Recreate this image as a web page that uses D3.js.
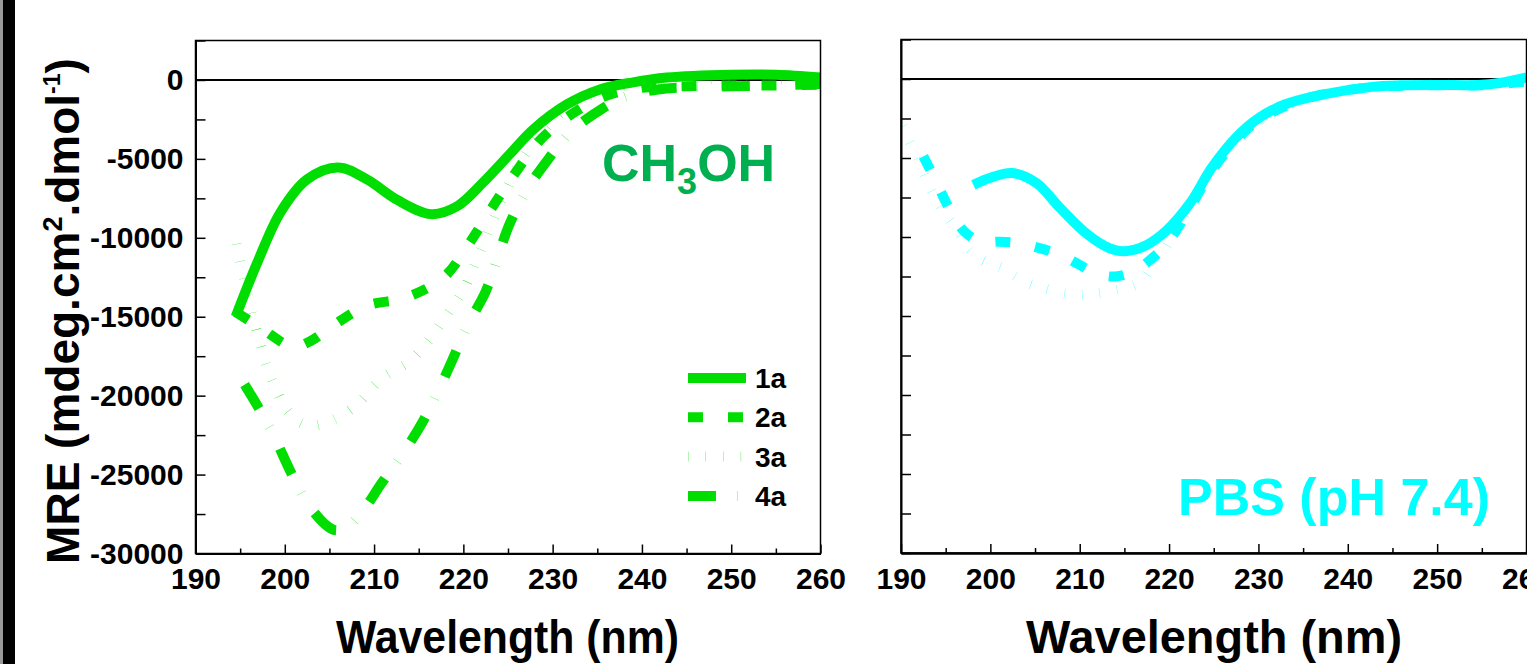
<!DOCTYPE html>
<html>
<head>
<meta charset="utf-8">
<script src="https://cdn.jsdelivr.net/npm/d3@7"></script>
<style>
  body { margin: 0; background: #fff; }
  svg { display: block; font-family: "Liberation Sans", Arial, sans-serif; font-weight: bold; }
</style>
</head>
<body>
<div id="chart"></div>
<script>
// axis ticks
const xMajor = [190, 200, 210, 220, 230, 240, 250, 260];
const xMinor = [195, 205, 215, 225, 235, 245, 255];
const yMajor = [0, -5000, -10000, -15000, -20000, -25000, -30000];
const yMinor = [2500, -2500, -7500, -12500, -17500, -22500, -27500];
const legendLabels = ["1a", "2a", "3a", "4a"];

// CH3OH panel, MRE
const meoh1aWl = [194.5, 196.9, 199.5, 202.5, 206, 209.2, 212.6, 216.4, 219.3, 222.2, 225.2, 227.8, 231.6, 235.3, 239, 242.8, 250, 255, 260];
const meoh1aMre = [-15000, -11600, -8400, -6300, -5550, -6300, -7600, -8500, -8000, -6500, -4700, -3150, -1550, -600, -150, 150, 330, 330, 150];

const meoh2aWl = [194.5, 197.3, 200.9, 203, 205.3, 209.2, 213.5, 217.8, 220.6, 223.2, 225.8, 228.8, 232.3, 236, 240, 245, 250, 255, 260];
const meoh2aMre = [-14700, -15700, -16900, -16500, -15600, -14300, -13800, -12500, -10400, -8100, -5900, -3700, -2100, -1000, -500, -400, -350, -350, -300];

const meoh3aWl = [194.2, 195, 195.5, 196.3, 196.9, 198, 199, 200.2, 201.7, 203.2, 204.7, 206.5, 208.4, 209.8, 210.9, 212.3, 214, 216, 218, 220, 222, 224, 226, 228, 230, 233, 236, 240, 245, 250, 255, 260];
const meoh3aMre = [-9300, -11500, -12700, -14800, -16000, -18200, -19600, -20900, -21700, -21900, -21700, -21200, -20400, -19500, -18900, -18400, -17800, -16600, -15000, -13300, -10700, -8000, -5600, -3900, -2600, -1300, -600, -200, 0, 50, 50, 0];

const meoh4aWl = [195.5, 198.3, 200.9, 203, 205.5, 207, 208.6, 210.9, 213.3, 215.4, 217.1, 218.8, 220.5, 222.5, 225.2, 227.3, 229.4, 232, 235.2, 238, 241.8, 246, 250.3, 254, 258.4, 260];
const meoh4aMre = [-19300, -22000, -25100, -27200, -28500, -28300, -27400, -25500, -23600, -21700, -19800, -17700, -15500, -13400, -9100, -6800, -5100, -3300, -1950, -1100, -600, -450, -400, -350, -280, -250];

// PBS panel
const pbs1aWl = [198.1, 200, 202.4, 205.2, 207.7, 210.8, 213.3, 215, 217.5, 219.7, 222.3, 224.8, 227.5, 230.1, 233, 237, 242.7, 246, 250, 254.6, 257, 260];
const pbs1aMre = [-6700, -6250, -5950, -6600, -8100, -9800, -10700, -10900, -10500, -9600, -7900, -5600, -3700, -2450, -1600, -1000, -500, -400, -380, -380, -250, 100];

const pbs2aWl = [192.5, 193.5, 195.5, 197, 198.9, 201, 203.2, 205.5, 207.7, 209.8, 211.8, 214, 216.3, 218, 219.8, 222.3, 224.8, 227.5, 230, 235, 240, 245, 250, 255, 260];
const pbs2aMre = [-4900, -6000, -8300, -9600, -10300, -10300, -10400, -10700, -11100, -11700, -12300, -12500, -12100, -11400, -10400, -8200, -5800, -3900, -2600, -1300, -700, -450, -400, -400, -150];

const pbs3aWl = [190.2, 191, 191.8, 193.5, 194.7, 195.7, 196.9, 198.6, 201.4, 204.1, 205.8, 208.6, 211.4, 214.4, 216.7, 218.1, 219.2, 221, 223, 225, 228, 231, 235, 240, 245, 250, 255, 260];
const pbs3aMre = [-3000, -4000, -4950, -7200, -8300, -9100, -10100, -11300, -12000, -12900, -13200, -13600, -13600, -13300, -12900, -11900, -11000, -9300, -7300, -5400, -3600, -2300, -1300, -650, -400, -350, -350, -100];

// line styles (Origin-like dash patterns at width 10)
const dashStyle = { "1a": null, "2a": "15,25", "3a": "0.3,17.3", "4a": "28,21,0.3,24" };

const width = 1527;
const height = 664;

const svg = d3.select("#chart").append("svg")
  .attr("width", width)
  .attr("height", height);

// black bar on the left edge
svg.append("rect").attr("x", 0).attr("y", 0).attr("width", 3).attr("height", height).attr("fill", "#999");
svg.append("rect").attr("x", 3).attr("y", 0).attr("width", 12).attr("height", height).attr("fill", "#000");

function drawPanel(opt) {
  const x = d3.scaleLinear().domain([190, 260]).range([opt.left, opt.right]);
  const y = d3.scaleLinear().domain([-30000, 2500]).range([opt.bottom, opt.top]);
  const g = svg.append("g");

  g.append("clipPath").attr("id", opt.id + "clip")
    .append("rect")
    .attr("x", opt.left).attr("y", opt.top)
    .attr("width", opt.right - opt.left).attr("height", opt.bottom - opt.top);

  // zero line
  g.append("line")
    .attr("x1", opt.left).attr("x2", opt.right)
    .attr("y1", y(0)).attr("y2", y(0))
    .attr("stroke", "#000").attr("stroke-width", 2);

  const line = d3.line()
    .x(d => x(d[0]))
    .y(d => y(d[1]))
    .curve(d3.curveCatmullRom.alpha(0.5));

  opt.series.forEach(s => {
    g.append("path")
      .datum(d3.zip(s.wl, s.mre))
      .attr("clip-path", "url(#" + opt.id + "clip)")
      .attr("d", line)
      .attr("fill", "none")
      .attr("stroke", opt.color)
      .attr("stroke-width", 10)
      .attr("stroke-dasharray", dashStyle[s.name]);
  });

  // frame
  g.append("rect")
    .attr("x", opt.left).attr("y", opt.top)
    .attr("width", opt.right - opt.left).attr("height", opt.bottom - opt.top)
    .attr("fill", "none").attr("stroke", "#000").attr("stroke-width", 1.5);

  // y axis, ticks pointing in
  const yAxis = g.append("g")
    .attr("transform", `translate(${opt.left},0)`)
    .call(d3.axisLeft(y).tickValues(yMajor.concat(yMinor)).tickSize(-10).tickSizeOuter(0).tickPadding(12)
      .tickFormat(d => (opt.yLabels && yMajor.includes(d)) ? String(d) : ""));
  yAxis.attr("font-size", 30).attr("font-family", null);

  // x axis: minor then major
  g.append("g")
    .attr("transform", `translate(0,${opt.bottom})`)
    .call(d3.axisBottom(x).tickValues(xMinor).tickSize(-5).tickSizeOuter(0).tickFormat(""));
  const xAxis = g.append("g")
    .attr("transform", `translate(0,${opt.bottom})`)
    .call(d3.axisBottom(x).tickValues(xMajor).tickSize(-9).tickSizeOuter(0).tickPadding(14.5).tickFormat(d => String(d)));
  xAxis.attr("font-size", 30).attr("font-family", null);

  g.selectAll(".domain").attr("stroke-width", 2);
  g.selectAll(".tick line").attr("stroke-width", 1.5);
  g.selectAll(".tick text").attr("fill", "#000");

  // x title
  g.append("text")
    .attr("x", opt.titleX).attr("y", 653)
    .attr("text-anchor", "middle")
    .attr("font-size", 46)
    .attr("textLength", opt.titleLen)
    .attr("lengthAdjust", "spacingAndGlyphs")
    .text("Wavelength (nm)");

  return { x, y };
}

drawPanel({
  id: "meoh", left: 195.5, right: 820.5, top: 40.5, bottom: 553.5,
  color: "#00dd00", yLabels: true, titleX: 507.5, titleLen: 343,
  series: [
    { name: "1a", wl: meoh1aWl, mre: meoh1aMre },
    { name: "2a", wl: meoh2aWl, mre: meoh2aMre },
    { name: "3a", wl: meoh3aWl, mre: meoh3aMre },
    { name: "4a", wl: meoh4aWl, mre: meoh4aMre }
  ]
});

drawPanel({
  id: "pbs", left: 901, right: 1526.5, top: 39.5, bottom: 553,
  color: "#00ffff", yLabels: false, titleX: 1214, titleLen: 376,
  series: [
    { name: "1a", wl: pbs1aWl, mre: pbs1aMre },
    { name: "2a", wl: pbs2aWl, mre: pbs2aMre },
    { name: "3a", wl: pbs3aWl, mre: pbs3aMre }
  ]
});

// y title with superscripts
const yTitle = svg.append("text")
  .attr("transform", "translate(79,311) rotate(-90)")
  .attr("text-anchor", "middle")
  .attr("font-size", 46);
yTitle.append("tspan").text("MRE (mdeg.cm");
yTitle.append("tspan").attr("font-size", 27).attr("dy", -17).text("2");
yTitle.append("tspan").attr("dy", 17).text(".dmol");
yTitle.append("tspan").attr("font-size", 23).attr("dy", -19).text("-1");
yTitle.append("tspan").attr("dy", 19).text(")");

// legend in the CH3OH panel
const legend = svg.append("g");
legendLabels.forEach((lab, i) => {
  const ly = 378 + i * 39.3;
  legend.append("line")
    .attr("x1", 688).attr("x2", 746).attr("y1", ly).attr("y2", ly)
    .attr("stroke", "#00dd00").attr("stroke-width", 10)
    .attr("stroke-dasharray", dashStyle[lab]);
  legend.append("text")
    .attr("x", 755).attr("y", ly).attr("dy", "0.36em")
    .attr("font-size", 28)
    .text(lab);
});

// panel labels
const meohLabel = svg.append("text")
  .attr("x", 602).attr("y", 181)
  .attr("font-size", 52).attr("fill", "#00b050");
meohLabel.append("tspan").text("CH");
meohLabel.append("tspan").attr("font-size", 36).attr("dy", 13).text("3");
meohLabel.append("tspan").attr("dy", -13).text("OH");

svg.append("text")
  .attr("x", 1178).attr("y", 515)
  .attr("font-size", 52).attr("fill", "#00ffff")
  .text("PBS (pH 7.4)");
</script>
</body>
</html>
